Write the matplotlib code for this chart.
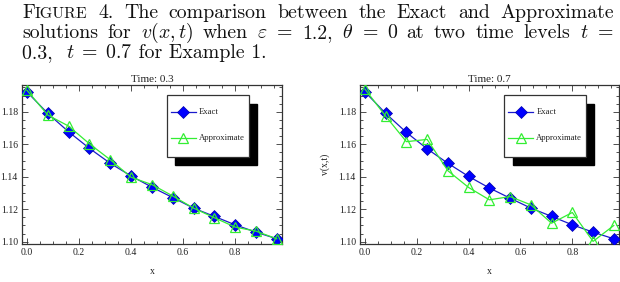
import matplotlib
matplotlib.use("Agg")
import matplotlib.pyplot as plt
from matplotlib.patches import Rectangle
from matplotlib.lines import Line2D
from matplotlib.ticker import MultipleLocator, FormatStrFormatter

plt.rcParams['mathtext.fontset'] = 'cm'

# ---------------- data ----------------
x_vals = [0.0, 0.08, 0.16, 0.24, 0.32, 0.40, 0.48, 0.56, 0.64, 0.72, 0.80, 0.88, 0.96]
exact_t03 = [1.1923, 1.1790, 1.1677, 1.1575, 1.1483, 1.1405, 1.1336, 1.1272, 1.1207,
             1.1156, 1.1104, 1.1059, 1.1018]
approx_t03 = [1.1933, 1.1780, 1.1712, 1.1603, 1.1505, 1.1397, 1.1352, 1.1282, 1.1207,
              1.1148, 1.1090, 1.1065, 1.1018]
exact_t07 = [1.1923, 1.1790, 1.1673, 1.1572, 1.1483, 1.1402, 1.1331, 1.1268, 1.1207,
             1.1156, 1.1104, 1.1059, 1.1018]
approx_t07 = [1.1940, 1.1773, 1.1616, 1.1630, 1.1437, 1.1334, 1.1258, 1.1278, 1.1227,
              1.1114, 1.1180, 1.1002, 1.1100]
titles = ["Time: 0.3", "Time: 0.7"]
legend_labels = ["Exact", "Approximate"]
x_ticks = [0.0, 0.2, 0.4, 0.6, 0.8]
y_ticks = [1.10, 1.12, 1.14, 1.16, 1.18]

W, H = 620, 282
fig = plt.figure(figsize=(W / 100, H / 100), dpi=100)

serif = ['Liberation Serif', 'DejaVu Serif']
EX_LINE = '#1a1acc'
EX_MARK = '#0000ff'
AP_COL = '#33ee33'


def px_axes(l, t, r, b):
    return fig.add_axes([l / W, 1 - b / H, (r - l) / W, (b - t) / H])


axes_boxes = [(22, 85, 282, 244), (360, 85, 619, 244)]
series = [(exact_t03, approx_t03), (exact_t07, approx_t07)]

for i, (box, (ex, ap)) in enumerate(zip(axes_boxes, series)):
    ax = px_axes(*box)
    ax.plot(x_vals, ex, color=EX_LINE, lw=0.9, marker='D', ms=6.3,
            mfc=EX_MARK, mec='#0000aa', mew=0.5, zorder=3)
    ax.plot(x_vals, ap, color=AP_COL, lw=0.9, marker='^', ms=7.5,
            mfc='none', mec=AP_COL, mew=0.9, zorder=4)
    ax.set_xlim(-0.019, 0.98)
    ax.set_ylim(1.0986, 1.1965)
    ax.set_xticks(x_ticks)
    ax.set_yticks(y_ticks)
    ax.xaxis.set_major_formatter(FormatStrFormatter('%.1f'))
    ax.yaxis.set_major_formatter(FormatStrFormatter('%.2f'))
    ax.xaxis.set_minor_locator(MultipleLocator(0.05))
    ax.yaxis.set_minor_locator(MultipleLocator(0.005))
    ax.tick_params(which='both', direction='in', top=True, right=True,
                   colors='#333333', width=0.6)
    ax.tick_params(which='major', length=4, labelsize=7, pad=3)
    ax.tick_params(which='minor', length=2)
    for lab in ax.get_xticklabels() + ax.get_yticklabels():
        lab.set_family(serif)
        lab.set_color('#222222')
    for sp in ax.spines.values():
        sp.set_color('#333333')
        sp.set_linewidth(0.9)
    ax.set_title(titles[i], fontsize=8, family=serif, pad=2, color='#222222')
    ax.set_xlabel('x', fontsize=7, family=serif, labelpad=7, color='#222222')
    if i == 1:
        ax.set_ylabel('v(x,t)', fontsize=7, family=serif, labelpad=6, color='#222222')

    # legend with black drop shadow
    bx0, bx1, by0, by1 = 0.556, 0.872, 0.549, 0.937
    dx, dy = 0.033, -0.054
    ax.add_patch(Rectangle((bx0 + dx, by0 + dy), bx1 - bx0, by1 - by0,
                           transform=ax.transAxes, facecolor='black',
                           edgecolor='black', zorder=10, clip_on=False))
    ax.add_patch(Rectangle((bx0, by0), bx1 - bx0, by1 - by0,
                           transform=ax.transAxes, facecolor='white',
                           edgecolor='#333333', lw=0.9, zorder=11, clip_on=False))
    hx0, hx1 = 0.572, 0.668
    hy = [0.832, 0.665]
    ax.add_line(Line2D([hx0, hx1], [hy[0], hy[0]], transform=ax.transAxes,
                       color=EX_LINE, lw=0.9, zorder=12))
    ax.add_line(Line2D([(hx0 + hx1) / 2], [hy[0]], transform=ax.transAxes,
                       marker='D', ms=6.3, mfc=EX_MARK, mec='#0000aa', mew=0.5,
                       ls='none', zorder=13))
    ax.add_line(Line2D([hx0, hx1], [hy[1], hy[1]], transform=ax.transAxes,
                       color=AP_COL, lw=0.9, zorder=12))
    ax.add_line(Line2D([(hx0 + hx1) / 2], [hy[1]], transform=ax.transAxes,
                       marker='^', ms=7.5, mfc='none', mec=AP_COL, mew=0.9,
                       ls='none', zorder=13))
    for lbl, yy in zip(legend_labels, hy):
        ax.text(0.681, yy, lbl, transform=ax.transAxes, fontsize=6.2,
                family=serif, va='center', ha='left', zorder=13, color='#222222')

# ---------------- caption (justified, computer-modern style) ----------------
CAP_FS = 14.3
renderer = fig.canvas.get_renderer()


def place_word(pieces, xpx, ypx):
    """pieces: list of (text, size factor). returns width in px."""
    x = xpx
    for txt, f in pieces:
        t = fig.text(x / W, 1 - ypx / H, txt, fontsize=CAP_FS * f, family='cmr10',
                     va='baseline', ha='left', color='#111111')
        bb = t.get_window_extent(renderer)
        x += bb.width
    return x - xpx


def measure(pieces):
    w = 0
    for txt, f in pieces:
        t = fig.text(0, 0, txt, fontsize=CAP_FS * f, family='cmr10')
        w += t.get_window_extent(renderer).width
        t.remove()
    return w


def justified_line(words, x0, x1, ypx):
    widths = [measure(w) for w in words]
    gap = (x1 - x0 - sum(widths)) / (len(words) - 1)
    x = x0
    for w, wd in zip(words, widths):
        place_word(w, x, ypx)
        x += wd + gap


line1 = [[('F', 1.0), ('IGURE', 0.8)], [('4.', 1)], [('The', 1)], [('comparison', 1)],
         [('between', 1)], [('the', 1)], [('Exact', 1)], [('and', 1)],
         [('Approximate', 1)]]
line2 = [[('solutions', 1)], [('for', 1)], [(r'$v(x,t)$', 1)], [('when', 1)],
         [(r'$\varepsilon$', 1)], [('=', 1)], [('1.2,', 1)], [(r'$\theta$', 1)],
         [('=', 1)], [('0', 1)], [('at', 1)], [('two', 1)], [('time', 1)],
         [('levels', 1)], [(r'$t$', 1)], [('=', 1)]]
justified_line(line1, 22, 614, 18)
justified_line(line2, 22, 613, 38)
place_word([('0.3,  ', 1), (r'$t\;=\;0.7$', 1), (' for Example 1.', 1)], 22, 58)

fig.savefig('out.png', dpi=100)
